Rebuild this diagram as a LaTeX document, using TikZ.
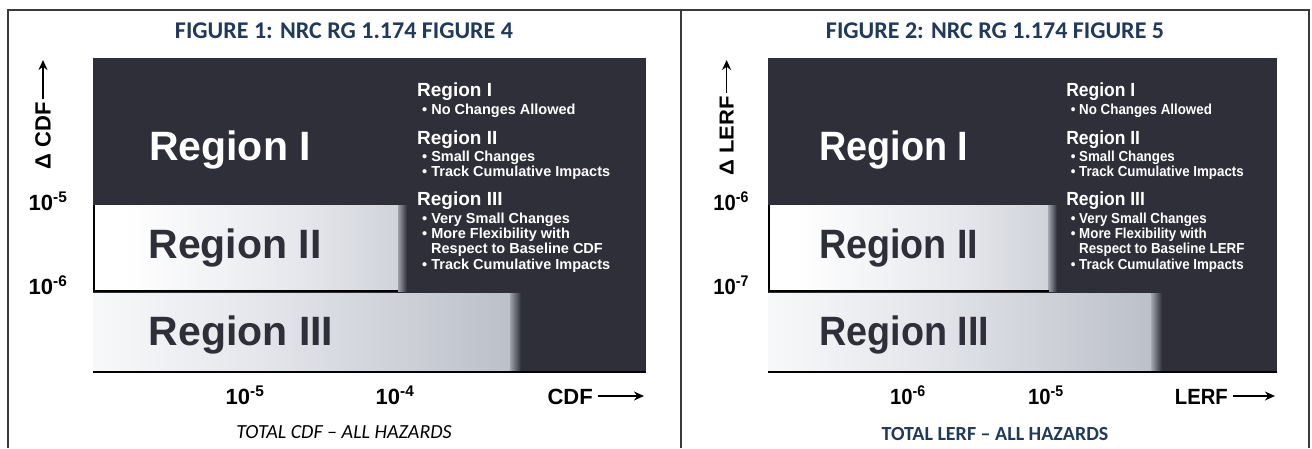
\documentclass[tikz,border=0pt]{standalone}
\usepackage{fontspec}
\setmainfont{Liberation Sans}
\newfontfamily\calfont{Carlito}
\newfontfamily\hfont{Liberation Sans}
\usetikzlibrary{arrows.meta}
\definecolor{titleblue}{HTML}{1F3A5C}
\definecolor{chartdark}{HTML}{2F2F39}
\definecolor{gA}{HTML}{E4E6EB}
\definecolor{gB}{HTML}{C3C6CE}
\definecolor{gC}{HTML}{9DA1AB}
\definecolor{gD}{HTML}{B3B7C1}
\definecolor{framec}{HTML}{3A3A3A}
\pgfdeclarehorizontalshading{shadeII}{100bp}{color(0bp)=(white); color(30bp)=(white); color(60bp)=(gA); color(85bp)=(gB); color(100bp)=(gC)}
\pgfdeclarehorizontalshading{shadeIII}{100bp}{color(0bp)=(white); color(18bp)=(white); color(45bp)=(gA); color(82bp)=(gD); color(100bp)=(gC)}
\tikzset{
  bigtxt/.style={font=\hfont\bfseries\fontsize{41}{41}\selectfont, inner sep=0pt},
  hdr/.style={font=\hfont\bfseries\fontsize{19}{19}\selectfont, text=white, anchor=base west, inner sep=0pt},
  itm/.style={font=\hfont\bfseries\fontsize{14.5}{14.5}\selectfont, text=white, anchor=base west, inner sep=0pt},
  tick/.style={font=\hfont\bfseries\fontsize{22}{22}\selectfont, text=black, inner sep=0pt, anchor=base},
  axlab/.style={font=\hfont\bfseries\fontsize{22}{22}\selectfont, text=black, inner sep=3pt},
  axarrow/.style={-{Stealth[length=10pt,width=9pt]}, line width=1.6pt, black},
  titletxt/.style={font=\calfont\bfseries\fontsize{24}{24}\selectfont, text=titleblue, inner sep=0pt},
  blur/.style={left color=gC, right color=chartdark},
}
\begin{document}
\begin{tikzpicture}[x=1pt,y=-1pt]
\useasboundingbox (0,0) rectangle (1312,448);
\fill[white] (0,0) rectangle (1312,448);
% table frame
\draw[framec, line width=1.1pt] (8,448) -- (8,10) -- (1309,10) -- (1309,448);
\draw[framec, line width=1.1pt] (681,10) -- (681,448);
% titles
\node[titletxt] (t1) at (344,31) {FIGURE 1: NRC RG 1.174 FIGURE 4};
\node[titletxt] (t2) at (995,31) {FIGURE 2: NRC RG 1.174 FIGURE 5};
\node[font=\calfont\itshape\fontsize{20}{20}\selectfont, inner sep=0pt] (c1) at (344,432) {TOTAL CDF – ALL HAZARDS};
\node[font=\calfont\bfseries\fontsize{20}{20}\selectfont, text=titleblue, inner sep=0pt] (c2) at (995,434) {TOTAL LERF – ALL HAZARDS};

% ---------- left chart ----------
\begin{scope}[shift={(93,0)}]
\fill[chartdark] (0,58) rectangle (553,372);
\shade[shading=shadeII] (0,205) rectangle (305,291);
\shade[blur] (305,205) rectangle (314,291);
\shade[shading=shadeIII] (0,293) rectangle (417,371);
\shade[blur] (417,293) rectangle (428,371);
\draw[line width=2.4pt, black] (1.2,205) -- (1.2,291);
\draw[line width=1.4pt, black] (0,291) -- (305,291);
\draw[line width=1.3pt, black] (0,372) -- (553,372);
\node[bigtxt, text=white] (Lr1) at (137,150) {Region I};
\node[bigtxt, text=chartdark] (Lr2) at (142,248) {Region II};
\node[bigtxt, text=chartdark] (Lr3) at (148,335) {Region III};
\node[hdr] (Lh1) at (324,96) {Region I};
\node[itm] (Li1) at (329,114) {\textbullet\ No Changes Allowed};
\node[hdr] (Lh2) at (324,144) {Region II};
\node[itm] (Li2) at (329,161) {\textbullet\ Small Changes};
\node[itm] (Li3) at (329,176) {\textbullet\ Track Cumulative Impacts};
\node[hdr] (Lh3) at (324,205) {Region III};
\node[itm] (Li4) at (329,223) {\textbullet\ Very Small Changes};
\node[itm] (Li5) at (329,238) {\textbullet\ More Flexibility with};
\node[itm] (Li6) at (338,253) {Respect to Baseline CDF};
\node[itm] (Li7) at (329,269) {\textbullet\ Track Cumulative Impacts};
\node[axlab, rotate=90] (Lylab) at (-50,136) {Δ CDF};
\coordinate (Lytip) at (-50,60);
\draw[axarrow] (Lylab.east) -- (Lytip);
\node[tick] (Ly5) at (-45,210) {10\textsuperscript{-5}};
\node[tick] (Ly6) at (-45,294) {10\textsuperscript{-6}};
\node[tick] (Lx5) at (152,404) {10\textsuperscript{-5}};
\node[tick] (Lx4) at (302,404) {10\textsuperscript{-4}};
\node[tick, anchor=base east] (Lxlab) at (500,404) {CDF};
\coordinate (Lxtip) at (551,396);
\draw[axarrow] (Lxlab.east |- Lxtip) ++(5,0) coordinate (Lxstart) (Lxstart) -- (Lxtip);
\end{scope}

% ---------- right chart ----------
\begin{scope}[shift={(768,0)}, xscale=0.92, transform shape]
\fill[chartdark] (0,58) rectangle (553,372);
\shade[shading=shadeII] (0,205) rectangle (305,291);
\shade[blur] (305,205) rectangle (314,291);
\shade[shading=shadeIII] (0,293) rectangle (417,371);
\shade[blur] (417,293) rectangle (428,371);
\draw[line width=2.4pt, black] (1.2,205) -- (1.2,291);
\draw[line width=1.4pt, black] (0,291) -- (305,291);
\draw[line width=1.3pt, black] (0,372) -- (553,372);
\node[bigtxt, text=white] (Rr1) at (137,150) {Region I};
\node[bigtxt, text=chartdark] (Rr2) at (142,248) {Region II};
\node[bigtxt, text=chartdark] (Rr3) at (148,335) {Region III};
\node[hdr] (Rh1) at (324,96) {Region I};
\node[itm] (Ri1) at (329,114) {\textbullet\ No Changes Allowed};
\node[hdr] (Rh2) at (324,144) {Region II};
\node[itm] (Ri2) at (329,161) {\textbullet\ Small Changes};
\node[itm] (Ri3) at (329,176) {\textbullet\ Track Cumulative Impacts};
\node[hdr] (Rh3) at (324,205) {Region III};
\node[itm] (Ri4) at (329,223) {\textbullet\ Very Small Changes};
\node[itm] (Ri5) at (329,238) {\textbullet\ More Flexibility with};
\node[itm] (Ri6) at (338,253) {Respect to Baseline LERF};
\node[itm] (Ri7) at (329,269) {\textbullet\ Track Cumulative Impacts};
\node[axlab, rotate=90] (Rylab) at (-45,136) {Δ LERF};
\coordinate (Rytip) at (-45,60);
\draw[axarrow] (Rylab.east) -- (Rytip);
\node[tick] (Ry6) at (-40,210) {10\textsuperscript{-6}};
\node[tick] (Ry7) at (-40,294) {10\textsuperscript{-7}};
\node[tick] (Rx6) at (152,404) {10\textsuperscript{-6}};
\node[tick] (Rx5) at (302,404) {10\textsuperscript{-5}};
\node[tick, anchor=base east] (Rxlab) at (500,404) {LERF};
\coordinate (Rxtip) at (551,396);
\draw[axarrow] (Rxlab.east |- Rxtip) ++(5,0) coordinate (Rxstart) (Rxstart) -- (Rxtip);
\end{scope}
\end{tikzpicture}
\end{document}
